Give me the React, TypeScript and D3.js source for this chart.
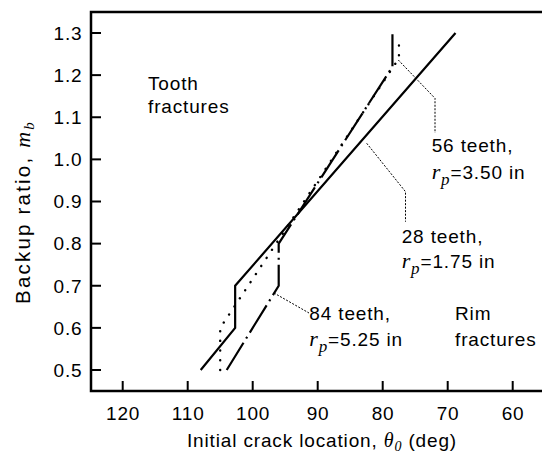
import React from "react";
import * as d3 from "d3";

// ---- data ----
const xTicks = [120, 110, 100, 90, 80, 70, 60];
const yTicks = [0.5, 0.6, 0.7, 0.8, 0.9, 1.0, 1.1, 1.2, 1.3];

const teeth28Theta = [108, 102.7, 102.7, 68.8];
const teeth28Mb = [0.5, 0.6, 0.7, 1.3];

const teeth56Theta = [105, 105, 77.5, 77.5];
const teeth56Mb = [0.5, 0.6, 1.24, 1.29];

const teeth84Theta = [104, 96, 96, 78.5, 78.5];
const teeth84Mb = [0.5, 0.7, 0.8, 1.22, 1.3];

const W = 542;
const H = 458;
const FONT = "'Liberation Sans', Arial, Helvetica, sans-serif";
const SERIF = "'Liberation Serif', 'Times New Roman', serif";
const LS = 0.85;

export default function App() {
  const x = d3.scaleLinear().domain([120, 60]).range([122.7, 512.7]);
  const y = d3.scaleLinear().domain([0.5, 1.3]).range([370, 33]);
  const frameLeft = 91;
  const frameTop = 12;
  const frameBottom = 391;

  const line = d3
    .line<[number, number]>()
    .x((d) => x(d[0]))
    .y((d) => y(d[1]));
  const zip = (a: number[], b: number[]) => a.map((v, i) => [v, b[i]] as [number, number]);

  const leader = d3
    .line<[number, number]>()
    .x((d) => d[0])
    .y((d) => d[1]);

  const fs = 19;

  const rp = (val: string) => (
    <>
      <tspan fontFamily={SERIF} fontStyle="italic" fontSize={22}>r</tspan>
      <tspan fontFamily={SERIF} fontStyle="italic" fontSize={17} dy={6}>p</tspan>
      <tspan dy={-6}>{"=" + val + " in"}</tspan>
    </>
  );

  return (
    <svg
      width={W}
      height={H}
      style={{ position: "absolute", left: 0, top: 0, background: "#fff" }}
    >
      <rect x={0} y={0} width={W} height={H} fill="#fff" />
      {/* frame */}
      <path
        d={`M${W},${frameTop}H${frameLeft}V${frameBottom}H${W}`}
        fill="none"
        stroke="#000"
        strokeWidth={2.5}
      />
      {/* y ticks */}
      {yTicks.map((t) => (
        <g key={"y" + t}>
          <line x1={frameLeft} x2={frameLeft + 10} y1={y(t)} y2={y(t)} stroke="#000" strokeWidth={2} />
          <text
            x={82.5}
            y={y(t) + 6.8}
            textAnchor="end"
            fontFamily={FONT}
            fontSize={fs}
            letterSpacing={LS}
            fill="#000"
          >
            {t.toFixed(1)}
          </text>
        </g>
      ))}
      {/* x ticks */}
      {xTicks.map((t) => (
        <g key={"x" + t}>
          <line x1={x(t)} x2={x(t)} y1={frameBottom} y2={frameBottom - 10} stroke="#000" strokeWidth={2} />
          <text
            x={x(t) + LS / 2}
            y={420}
            textAnchor="middle"
            fontFamily={FONT}
            fontSize={fs}
            letterSpacing={LS}
            fill="#000"
          >
            {t}
          </text>
        </g>
      ))}
      {/* axis titles */}
      <text
        x={322}
        y={447}
        textAnchor="middle"
        fontFamily={FONT}
        fontSize={fs}
        letterSpacing={LS}
        fill="#000"
      >
        Initial crack location,{" "}
        <tspan fontFamily={SERIF} fontStyle="italic" fontSize={20}>θ</tspan>
        <tspan fontFamily={SERIF} fontStyle="italic" fontSize={14} dy={4}>0</tspan>
        <tspan dy={-4}> (deg)</tspan>
      </text>
      <text
        transform={`translate(30,212) rotate(-90)`}
        textAnchor="middle"
        fontFamily={FONT}
        fontSize={20.5}
        letterSpacing={2.2}
        fill="#000"
      >
        Backup ratio,{" "}
        <tspan fontFamily={SERIF} fontStyle="italic" fontSize={22}>m</tspan>
        <tspan fontFamily={SERIF} fontStyle="italic" fontSize={15} dy={4}>b</tspan>
      </text>

      {/* series */}
      <path d={line(zip(teeth28Theta, teeth28Mb)) || ""} fill="none" stroke="#000" strokeWidth={2.2} />
      <path
        d={line(zip(teeth56Theta, teeth56Mb)) || ""}
        fill="none"
        stroke="#000"
        strokeWidth={2.4}
        strokeDasharray="0.1,9.6"
        strokeLinecap="round"
      />
      <path
        d={line(zip(teeth84Theta, teeth84Mb)) || ""}
        fill="none"
        stroke="#000"
        strokeWidth={2.2}
        strokeDasharray="32,5,2,5"
      />

      {/* leaders */}
      <g fill="none" stroke="#000" strokeWidth={1} strokeDasharray="2,1.5">
        <path d={leader([[398.3, 60], [435, 98.3], [435, 133]]) || ""} />
        <path d={leader([[366.7, 143.3], [405.5, 191.7], [405.5, 221.7]]) || ""} />
        <path d={leader([[274, 293], [309, 313]]) || ""} />
      </g>

      {/* annotations */}
      <g fontFamily={FONT} fontSize={fs} letterSpacing={LS} fill="#000">
        <text x={148} y={90}>Tooth</text>
        <text x={148} y={113}>fractures</text>

        <text x={431.7} y={152.3}>56 teeth,</text>
        <text x={431.7} y={179}>{rp("3.50")}</text>

        <text x={401.7} y={242.7}>28 teeth,</text>
        <text x={401.7} y={268.3}>{rp("1.75")}</text>

        <text x={309.3} y={320}>84 teeth,</text>
        <text x={309.3} y={346}>{rp("5.25")}</text>

        <text x={455} y={320}>Rim</text>
        <text x={455} y={346}>fractures</text>
      </g>
    </svg>
  );
}
